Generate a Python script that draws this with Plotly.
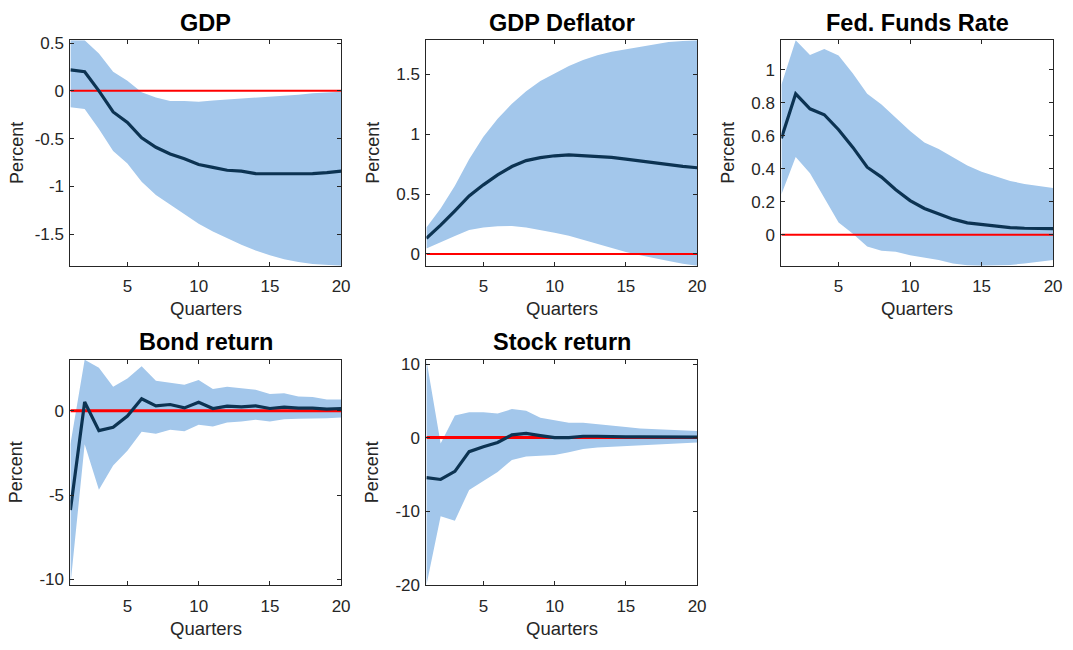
import plotly.graph_objects as go

quarters = list(range(1, 21))

titles = ["GDP", "GDP Deflator", "Fed. Funds Rate", "Bond return", "Stock return"]

gdp_med = [0.22, 0.20, 0.0, -0.22, -0.33, -0.49, -0.59, -0.66, -0.71, -0.77,
           -0.80, -0.83, -0.84, -0.865, -0.867, -0.868, -0.867, -0.865, -0.855, -0.84]
gdp_up = [0.53, 0.53, 0.39, 0.20, 0.105, -0.015, -0.07, -0.105, -0.105, -0.115,
          -0.10, -0.09, -0.08, -0.075, -0.06, -0.05, -0.04, -0.025, -0.015, -0.01]
gdp_lo = [-0.17, -0.19, -0.40, -0.63, -0.76, -0.95, -1.09, -1.19, -1.29, -1.39,
          -1.47, -1.54, -1.61, -1.67, -1.72, -1.76, -1.79, -1.81, -1.82, -1.83]

defl_med = [0.13, 0.24, 0.36, 0.485, 0.577, 0.66, 0.73, 0.78, 0.805, 0.82,
            0.828, 0.822, 0.81, 0.806, 0.792, 0.776, 0.762, 0.746, 0.732, 0.72]
defl_up = [0.22, 0.38, 0.57, 0.79, 0.98, 1.13, 1.255, 1.36, 1.445, 1.51,
           1.57, 1.62, 1.66, 1.69, 1.71, 1.73, 1.75, 1.77, 1.78, 1.786]
defl_lo = [0.045, 0.10, 0.15, 0.20, 0.22, 0.23, 0.234, 0.22, 0.20, 0.177,
           0.152, 0.117, 0.084, 0.052, 0.016, -0.011, -0.038, -0.06, -0.082, -0.10]

ffr_med = [0.585, 0.855, 0.764, 0.728, 0.637, 0.53, 0.41, 0.35, 0.274, 0.208,
           0.16, 0.13, 0.095, 0.073, 0.062, 0.054, 0.044, 0.04, 0.038, 0.038]
ffr_up = [0.91, 1.18, 1.09, 1.127, 1.087, 0.978, 0.855, 0.79, 0.71, 0.63,
          0.56, 0.52, 0.47, 0.42, 0.383, 0.353, 0.327, 0.308, 0.294, 0.284]
ffr_lo = [0.244, 0.472, 0.373, 0.224, 0.075, 0.006, -0.07, -0.097, -0.103, -0.123,
          -0.137, -0.153, -0.173, -0.185, -0.188, -0.187, -0.183, -0.173, -0.163, -0.153]

bond_med = [-5.89, 0.52, -1.18, -0.98, -0.31, 0.71, 0.29, 0.37, 0.17, 0.50,
            0.135, 0.27, 0.23, 0.29, 0.135, 0.21, 0.15, 0.15, 0.10, 0.135]
bond_up = [-1.99, 3.03, 2.55, 1.43, 1.91, 2.64, 1.78, 1.68, 1.54, 1.83,
           1.29, 1.43, 1.33, 1.25, 1.0, 1.04, 0.85, 0.81, 0.66, 0.66]
bond_lo = [-10.35, -1.99, -4.69, -3.24, -2.37, -1.25, -1.37, -1.12, -1.22, -0.83,
           -0.93, -0.69, -0.64, -0.54, -0.64, -0.50, -0.48, -0.48, -0.44, -0.40]

stock_med = [-5.45, -5.7, -4.6, -1.92, -1.25, -0.67, 0.36, 0.58, 0.27, 0.0,
             0.0, 0.18, 0.18, 0.09, 0.09, 0.09, 0.07, 0.06, 0.05, 0.05]
stock_up = [10.6, -0.8, 3.0, 3.44, 3.44, 3.26, 3.88, 3.66, 2.68, 2.32,
            2.0, 2.0, 1.79, 1.56, 1.43, 1.25, 1.16, 1.07, 0.98, 0.89]
stock_lo = [-20.1, -10.7, -11.3, -7.14, -5.9, -4.69, -3.04, -2.59, -2.46, -2.37,
            -2.0, -1.56, -1.34, -1.25, -1.16, -0.98, -0.89, -0.80, -0.71, -0.67]

yticks = [
    [-1.5, -1, -0.5, 0, 0.5],
    [0, 0.5, 1, 1.5],
    [0, 0.2, 0.4, 0.6, 0.8, 1],
    [-10, -5, 0],
    [-20, -10, 0, 10],
]
yticklabels = [
    ["-1.5", "-1", "-0.5", "0", "0.5"],
    ["0", "0.5", "1", "1.5"],
    ["0", "0.2", "0.4", "0.6", "0.8", "1"],
    ["-10", "-5", "0"],
    ["-20", "-10", "0", "10"],
]
xticks = [5, 10, 15, 20]
xticklabels = ["5", "10", "15", "20"]

meds = [gdp_med, defl_med, ffr_med, bond_med, stock_med]
ups = [gdp_up, defl_up, ffr_up, bond_up, stock_up]
los = [gdp_lo, defl_lo, ffr_lo, bond_lo, stock_lo]

W, H = 1073, 650
# pixel boxes (left, right, top, bottom)
boxes = [
    (71, 344, 35, 266),
    (430, 703, 35, 266),
    (788, 1062, 35, 266),
    (71, 344, 362, 593),
    (430, 703, 362, 593),
]
zero_widths = [2, 2, 2, 3, 3]

FILL = "#A3C7EB"
LINE = "#0C3352"
AX = "#262626"
FONT = "Liberation Sans, Arial, sans-serif"

fig = go.Figure()
annotations = []
for i in range(5):
    xa = "x" if i == 0 else f"x{i+1}"
    ya = "y" if i == 0 else f"y{i+1}"
    fig.add_trace(go.Scatter(x=quarters, y=los[i], mode="lines", line=dict(width=0, color=FILL),
                             showlegend=False, hoverinfo="skip", xaxis=xa, yaxis=ya))
    fig.add_trace(go.Scatter(x=quarters, y=ups[i], mode="lines", line=dict(width=0, color=FILL),
                             fill="tonexty", fillcolor=FILL, showlegend=False, xaxis=xa, yaxis=ya))
    fig.add_trace(go.Scatter(x=[quarters[0], quarters[-1]], y=[0, 0], mode="lines",
                             line=dict(width=zero_widths[i], color="#FF0000"), showlegend=False,
                             xaxis=xa, yaxis=ya))
    fig.add_trace(go.Scatter(x=quarters, y=meds[i], mode="lines", line=dict(width=3.2, color=LINE),
                             showlegend=False, xaxis=xa, yaxis=ya))

    l, r, t, b = boxes[i]
    xdom = [l / W, r / W]
    ydom = [1 - b / H, 1 - t / H]
    ymin = min(los[i])
    ymax = max(ups[i])
    axcommon = dict(showline=True, linecolor=AX, linewidth=1, mirror="ticks", ticks="inside",
                    ticklen=4, tickcolor=AX, showgrid=False, zeroline=False,
                    tickfont=dict(family=FONT, size=17, color=AX))
    key_x = "xaxis" if i == 0 else f"xaxis{i+1}"
    key_y = "yaxis" if i == 0 else f"yaxis{i+1}"
    fig.update_layout(**{
        key_x: dict(domain=xdom, anchor=ya, range=[1, 20], tickvals=xticks, ticktext=xticklabels,
                    ticklabelstandoff=5, **axcommon),
        key_y: dict(domain=ydom, anchor=xa, range=[ymin, ymax], tickvals=yticks[i],
                    ticktext=yticklabels[i], ticklabelstandoff=2, **axcommon),
    })
    cx = (l + r) / 2 / W
    annotations.append(dict(text=f"<b>{titles[i]}</b>", x=cx, y=1 - (t - 18) / H, xref="paper",
                            yref="paper", showarrow=False, xanchor="center", yanchor="middle",
                            font=dict(family=FONT, size=23.5, color="black")))
    annotations.append(dict(text="Quarters", x=cx, y=1 - (b + 44) / H, xref="paper", yref="paper",
                            showarrow=False, xanchor="center", yanchor="middle",
                            font=dict(family=FONT, size=18.5, color=AX)))
    annotations.append(dict(text="Percent", x=(l - 54) / W, y=1 - (t + b) / 2 / H, xref="paper",
                            yref="paper", showarrow=False, textangle=-90, xanchor="center",
                            yanchor="middle", font=dict(family=FONT, size=18, color=AX)))

fig.update_layout(width=W, height=H, margin=dict(l=0, r=0, t=0, b=0),
                  plot_bgcolor="white", paper_bgcolor="white", annotations=annotations,
                  showlegend=False)
fig.write_html("out.html")
